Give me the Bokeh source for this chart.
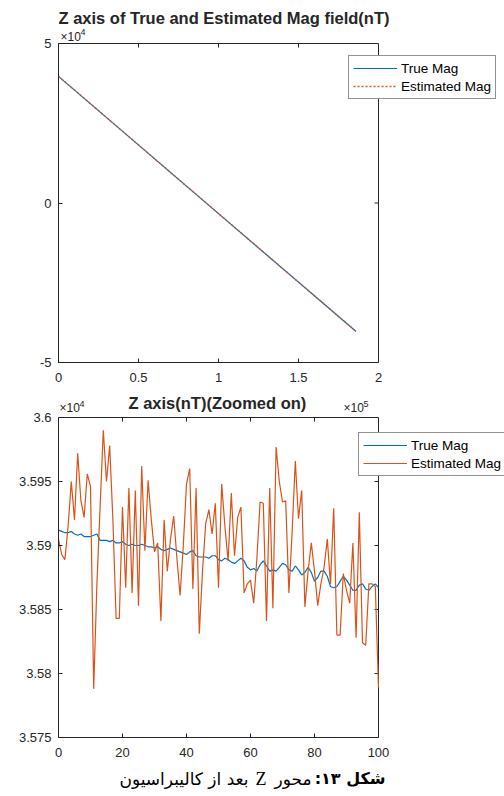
from bokeh.plotting import figure
from bokeh.models import Range1d, Legend, LegendItem, Label, FixedTicker
from bokeh.layouts import column
from bokeh.embed import file_html
from bokeh.resources import INLINE

# ---------------- data ----------------
top_x = [0, 186000]
top_true = [39700, -40300]
top_est = [39700, -40300]
top_xmax = 200000
top_ymin, top_ymax = -50000, 50000
top_xticks = [0, 50000, 100000, 150000, 200000]
top_xlabels = ["0", "0.5", "1", "1.5", "2"]
top_yticks = [-50000, 0, 50000]
top_ylabels = ["-5", "0", "5"]

zoom_x = list(range(101))
zoom_true = [35912, 35911, 35910, 35910, 35911, 35909, 35908, 35909, 35907, 35907,
             35907, 35908, 35909, 35904, 35904, 35904, 35903, 35904, 35902, 35902,
             35903, 35901, 35900, 35901, 35900, 35900, 35901, 35900, 35899, 35899,
             35898, 35899, 35897, 35896, 35897, 35898, 35897, 35896, 35895, 35894,
             35893, 35895, 35896, 35892, 35891, 35891, 35891, 35890, 35892, 35892,
             35889, 35888, 35890, 35889, 35887, 35886, 35888, 35890, 35888, 35883,
             35881, 35882, 35880, 35885, 35888, 35884, 35880, 35881, 35880, 35883,
             35886, 35885, 35881, 35880, 35884, 35881, 35877, 35879, 35883, 35879,
             35872, 35875, 35880, 35880, 35876, 35868, 35867, 35868, 35872, 35876,
             35873, 35869, 35865, 35865, 35869, 35870, 35866, 35865, 35868, 35870,
             35867]
zoom_est = [35905, 35893, 35889, 35915, 35950, 35920, 35972, 35935, 35922, 35956,
            35946, 35788, 35870, 35930, 35990, 35950, 35978, 35920, 35843, 35843,
            35930, 35867, 35945, 35863, 35943, 35853, 35962, 35896, 35951, 35920,
            35895, 35902, 35841, 35920, 35880, 35905, 35923, 35890, 35861, 35900,
            35948, 35960, 35866, 35945, 35831, 35880, 35917, 35928, 35909, 35933,
            35867, 35948, 35915, 35888, 35941, 35892, 35922, 35930, 35863, 35870,
            35873, 35855, 35890, 35934, 35933, 35841, 35945, 35851, 35977, 35950,
            35934, 35935, 35863, 35910, 35966, 35921, 35943, 35852, 35880, 35902,
            35880, 35853, 35870, 35883, 35905, 35870, 35929, 35830, 35830, 35878,
            35865, 35855, 35902, 35828, 35926, 35824, 35822, 35870, 35870, 35868,
            35789]
zoom_xmax = 100
zoom_ymin, zoom_ymax = 35750, 36000
zoom_xticks = [0, 20, 40, 60, 80, 100]
zoom_xlabels = ["0", "20", "40", "60", "80", "100"]
zoom_yticks = [35750, 35800, 35850, 35900, 35950, 36000]
zoom_ylabels = ["3.575", "3.58", "3.585", "3.59", "3.595", "3.6"]

series_names = ["True Mag", "Estimated Mag"]
title_top = "Z axis of True and Estimated Mag field(nT)"
title_zoom = "Z axis(nT)(Zoomed on)"
caption_bold = "\u202b\u0634\u06a9\u0644 \u06f1\u06f3:\u202c"
caption_word = "\u202b\u0645\u062d\u0648\u0631\u202c"
caption_z = "Z"
caption_rest = "\u202b\u0628\u0639\u062f \u0627\u0632 \u06a9\u0627\u0644\u06cc\u0628\u0631\u0627\u0633\u06cc\u0648\u0646\u202c"

BLUE = "#0072BD"
ORANGE = "#D95319"
AX = "#262626"
FONT = "Liberation Sans"
W = 504
LEFT = 58
BOX_W = 320
FRAME_W = W - LEFT   # frame reaches the right edge so the legend may stick out of the box
TICK = 4             # tick length in px


def make_fig(h, pad_top, box_h, bottom, xmax, ymin, ymax, xt, xl, yt, yl):
    xr = Range1d(0, xmax * FRAME_W / BOX_W)
    yr = Range1d(ymin, ymax + (ymax - ymin) * pad_top / box_h)
    p = figure(width=W, height=h, x_range=xr, y_range=yr, title=None,
               output_backend="svg", toolbar_location=None,
               min_border_left=LEFT, min_border_right=0,
               min_border_top=0, min_border_bottom=bottom)
    p.grid.visible = False
    p.outline_line_color = None
    p.background_fill_color = "white"
    p.border_fill_color = "white"
    xa = p.xaxis[0]
    ya = p.yaxis[0]
    xa.bounds = (0, xmax)
    ya.bounds = (ymin, ymax)
    xa.ticker = FixedTicker(ticks=xt)
    ya.ticker = FixedTicker(ticks=yt)
    xa.major_label_overrides = dict(zip(xt, xl))
    ya.major_label_overrides = dict(zip(yt, yl))
    xa.major_label_standoff = 10
    ya.major_label_standoff = 7
    for a in (xa, ya):
        a.major_tick_in = TICK
        a.major_tick_out = 0
        a.minor_tick_line_color = None
        a.axis_line_color = AX
        a.major_tick_line_color = AX
        a.major_label_text_font = FONT
        a.major_label_text_font_size = "13px"
        a.major_label_text_color = AX
    # axes box (top and right edges) from the axis limits
    p.quad(left=[0], right=[xmax], bottom=[ymin], top=[ymax],
           fill_color=None, line_color=AX, line_width=1)
    # inward ticks on the top and right edges, at the same tick values
    dx = xmax / BOX_W * TICK
    dy = (ymax - ymin) / box_h * TICK
    inner_x = [t for t in xt if 0 < t < xmax]
    inner_y = [t for t in yt if ymin < t < ymax]
    p.segment(x0=inner_x, x1=inner_x, y0=[ymax] * len(inner_x), y1=[ymax - dy] * len(inner_x),
              line_color=AX, line_width=1)
    p.segment(x0=[xmax] * len(inner_y), x1=[xmax - dx] * len(inner_y), y0=inner_y, y1=inner_y,
              line_color=AX, line_width=1)
    return p


def strip(h):
    s = figure(width=W, height=h, x_range=Range1d(0, W), y_range=Range1d(0, h),
               output_backend="svg", toolbar_location=None, title=None,
               x_axis_location=None, y_axis_location=None,
               min_border_left=0, min_border_right=0,
               min_border_top=0, min_border_bottom=0)
    s.grid.visible = False
    s.outline_line_color = None
    s.background_fill_color = "white"
    s.border_fill_color = "white"
    return s


def txt(p, x, y, s, size="13px", style="normal", align="left", font=FONT, color=AX):
    p.add_layout(Label(x=x, y=y, x_units="screen", y_units="screen", text=s,
                       text_font=font, text_font_size=size, text_font_style=style,
                       text_align=align, text_baseline="middle", text_color=color))


def legend(p, items, loc):
    lg = Legend(items=items, location=loc, orientation="vertical",
                label_text_font=FONT, label_text_font_size="13.5px", label_text_color="black",
                glyph_width=44, glyph_height=16, label_height=16, label_standoff=4,
                padding=4, spacing=2, margin=0,
                border_line_color=AX, border_line_width=1,
                background_fill_color="white", background_fill_alpha=1)
    p.add_layout(lg, "center")


# ---------------- top figure (frame bottom at page y 362) ----------------
p1 = make_fig(392, 43, 319, 30, top_xmax, top_ymin, top_ymax,
              top_xticks, top_xlabels, top_yticks, top_ylabels)
r1 = p1.line(top_x, top_true, line_color=BLUE, line_width=1.2)
r2 = p1.line(top_x, top_est, line_color=ORANGE, line_width=1.4, line_dash="2 2")
legend(p1, [LegendItem(label=series_names[0], renderers=[r1]),
            LegendItem(label=series_names[1], renderers=[r2])], (290, 263))
txt(p1, 0, 345, title_top, size="16.5px", style="bold")
txt(p1, 2, 326, "\u00d710", size="12px")
txt(p1, 22, 331, "4", size="9px")

# ---------------- zoom figure (frame bottom at page y 737) ----------------
p2 = make_fig(370, 25, 320, 25, zoom_xmax, zoom_ymin, zoom_ymax,
              zoom_xticks, zoom_xlabels, zoom_yticks, zoom_ylabels)
q1 = p2.line(zoom_x, zoom_true, line_color=BLUE, line_width=1.2)
q2 = p2.line(zoom_x, zoom_est, line_color=ORANGE, line_width=1.2)
legend(p2, [LegendItem(label=series_names[0], renderers=[q1]),
            LegendItem(label=series_names[1], renderers=[q2])], (300, 261))
txt(p2, 70, 334.5, title_zoom, size="16.5px", style="bold")
txt(p2, 1, 329.5, "\u00d710", size="12px")
txt(p2, 21, 334, "4", size="9px")
txt(p2, 285, 329.5, "\u00d710", size="12px")
txt(p2, 305, 334, "5", size="9px")

# ---------------- caption strip ----------------
s3 = strip(33)
AR = "DejaVu Sans"
txt(s3, 327, 17, caption_bold, size="16px", style="bold", align="right", font=AR, color="black")
txt(s3, 253, 17, caption_word, size="17px", align="right", font=AR, color="black")
txt(s3, 208, 17, caption_z, size="18px", align="right", font="Liberation Serif", color="black")
txt(s3, 190, 17, caption_rest, size="17px", align="right", font=AR, color="black")

layout = column(p1, p2, s3, spacing=0)
open("out.html", "w").write(file_html(layout, INLINE))
